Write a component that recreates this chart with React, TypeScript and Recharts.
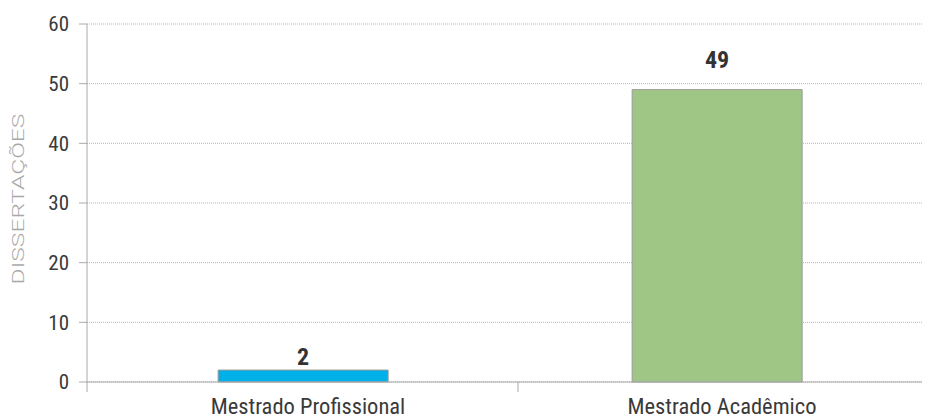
import React from 'react'
import {
  BarChart,
  Bar,
  XAxis,
  YAxis,
  CartesianGrid,
  Cell,
  LabelList,
  Label
} from 'recharts';

const categories = ['Mestrado Profissional', 'Mestrado Acadêmico'];
const dissertacoes = [2, 49];
const barColors = ['#00b0e8', '#a0c685'];
const yTicks = [0, 10, 20, 30, 40, 50, 60];

const data = categories.map((name, i) => ({ name, value: dissertacoes[i] }));

const FONT = "'Roboto Condensed', 'Liberation Sans Narrow', 'DejaVu Sans Condensed', Roboto, sans-serif";

// label gap above each bar
const labelGap = [5, 22];

function CategoryTick(props: any) {
  const { x, y, payload, index } = props;
  return (
    <g>
      {index === 0 && (
        <>
          <line x1={x - 216} x2={x - 216} y1={y - 8} y2={y + 2} stroke="#aaa" />
          <line x1={x + 215} x2={x + 215} y1={y - 8} y2={y + 2} stroke="#aaa" />
        </>
      )}
      <text x={x + 5} y={y + 24} textAnchor="middle" fontSize={22.5} fill="#3a3a3a" fontFamily={FONT}>
        {payload.value}
      </text>
    </g>
  );
}

function ValueLabel(props: any) {
  const { x, y, width, value, index } = props;
  return (
    <text
      x={x + width / 2}
      y={y - labelGap[index]}
      textAnchor="middle"
      fontSize={24}
      fontWeight="bold"
      fill="#333"
      fontFamily={FONT}
    >
      {value}
    </text>
  );
}

function AxisTitle(props: any) {
  const { viewBox } = props;
  const cy = viewBox.y + viewBox.height / 2 - 4;
  return (
    <text
      transform={`translate(16, ${cy}) rotate(-90) scale(1.45, 1)`}
      textAnchor="middle"
      fontSize={17}
      fontWeight={300}
      fill="#a8a8a8"
      fontFamily="Roboto, sans-serif"
    >
      DISSERTAÇÕES
    </text>
  );
}

export default function App() {
  return (
    <BarChart
      width={922}
      height={411}
      data={data}
      margin={{ top: 16, right: 0, bottom: 7, left: 0 }}
      barCategoryGap="29.5%"
    >
      <CartesianGrid vertical={false} stroke="#b5b5b5" strokeDasharray="1 1" />
      <XAxis
        dataKey="name"
        height={30}
        padding={{ left: 9, right: 6 }}
        axisLine={{ stroke: '#aaa' }}
        tickLine={false}
        tick={<CategoryTick />}
        interval={0}
      />
      <YAxis
        width={79}
        domain={[0, 60]}
        ticks={yTicks}
        axisLine={{ stroke: '#aaa' }}
        tickLine={{ stroke: '#aaa' }}
        tickSize={8}
        tickMargin={10}
        tick={{ fontSize: 21, fill: '#3a3a3a', fontFamily: FONT }}
      >
        <Label content={<AxisTitle />} />
      </YAxis>
      <Bar dataKey="value" stroke="#999" strokeWidth={1} isAnimationActive={false}>
        {data.map((entry, index) => (
          <Cell key={`cell-${index}`} fill={barColors[index]} />
        ))}
        <LabelList dataKey="value" content={<ValueLabel />} />
      </Bar>
    </BarChart>
  );
}
